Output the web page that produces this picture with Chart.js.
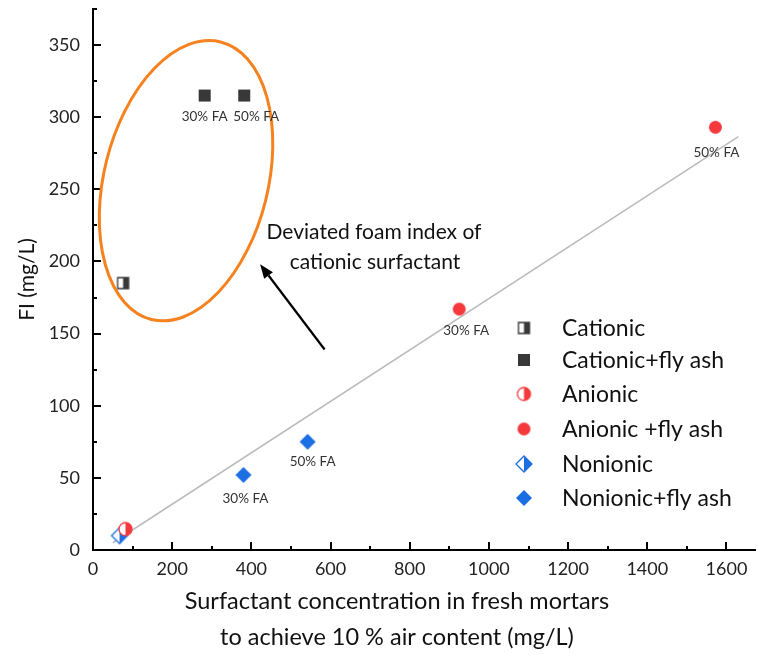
<!DOCTYPE html>
<html><head><meta charset="utf-8">
<script src="https://cdn.jsdelivr.net/npm/chart.js@4"></script>
<style>html,body{margin:0;padding:0;background:#fff}</style>
</head><body>
<canvas id="c" width="762" height="655"></canvas>
<script>
// ---- data ----
const xTicks = [0, 200, 400, 600, 800, 1000, 1200, 1400, 1600];
const yTicks = [0, 50, 100, 150, 200, 250, 300, 350];
const cationicX = [76], cationicY = [185];
const cationicFAX = [282, 382], cationicFAY = [315, 315];
const anionicX = [82], anionicY = [14.5];
const anionicFAX = [925, 1572], anionicFAY = [167, 293];
const nonionicX = [67], nonionicY = [10];
const nonionicFAX = [380, 542], nonionicFAY = [52, 75];
const faLabels = ['30% FA', '50% FA'];
const fitX = [50, 1630], fitY = [5, 286.5];
const legendNames = ['Cationic', 'Cationic+fly ash', 'Anionic', 'Anionic +fly ash', 'Nonionic', 'Nonionic+fly ash'];
const noteLines = ['Deviated foam index of', 'cationic surfactant'];
const xTitleLines = ['Surfactant concentration in fresh mortars', 'to achieve 10 % air content (mg/L)'];

const FONT = 'Lato, "Open Sans", sans-serif';
const DARK = '#383838', RED = '#f5383c', BLUE = '#1c6ee3', ORANGE = '#f5821f';

function makeMarker(shape, color, half, size) {
  const pad = 2;
  const c = document.createElement('canvas');
  c.width = c.height = Math.ceil(size + pad * 2);
  const g = c.getContext('2d');
  const m = c.width / 2, r = size / 2;
  const path = () => {
    g.beginPath();
    if (shape === 'square') g.rect(m - r, m - r, size, size);
    else if (shape === 'circle') g.arc(m, m, r, 0, Math.PI * 2);
    else { g.moveTo(m, m - r); g.lineTo(m + r, m); g.lineTo(m, m + r); g.lineTo(m - r, m); g.closePath(); }
  };
  if (half) {
    path(); g.fillStyle = '#fff'; g.fill();
    g.save(); path(); g.clip(); g.fillStyle = color; g.fillRect(m, 0, c.width, c.height); g.restore();
    path(); g.lineWidth = 1.3; g.strokeStyle = color; g.stroke();
  } else { path(); g.fillStyle = color; g.fill(); }
  return c;
}
const markers = [
  makeMarker('square', DARK, true, 11),
  makeMarker('square', DARK, false, 12),
  makeMarker('circle', RED, true, 13),
  makeMarker('circle', RED, false, 13),
  makeMarker('diamond', BLUE, true, 16),
  makeMarker('diamond', BLUE, false, 16)
];
const zip = (xs, ys) => xs.map((x, i) => ({x, y: ys[i]}));
const seriesX = [cationicX, cationicFAX, anionicX, anionicFAX, nonionicX, nonionicFAX];
const seriesY = [cationicY, cationicFAY, anionicY, anionicFAY, nonionicY, nonionicFAY];

const datasets = seriesX.map((xs, i) => ({
  label: legendNames[i], data: zip(xs, seriesY[i]),
  pointStyle: markers[i], pointRadius: 6, order: 1
}));
datasets.push({
  label: 'fit', data: zip(fitX, fitY), showLine: true, borderColor: '#bcbcbc',
  borderWidth: 1.6, pointRadius: 0, order: 10
});

// label offsets for FA annotations (pixels): [dataset index, point index, dx, dy]
const faLabelPos = [[1, 0, 0, 21], [1, 1, 12, 21], [3, 0, 7, 22], [3, 1, 1, 25], [5, 0, 2, 24], [5, 1, 5, 20]];

const extras = {
  id: 'extras',
  afterDraw(chart) {
    const ctx = chart.ctx, xs = chart.scales.x, ys = chart.scales.y, a = chart.chartArea;
    ctx.save();
    // inward ticks
    ctx.strokeStyle = '#000'; ctx.lineWidth = 2;
    for (let v = 0; v <= xs.max; v += 100) {
      const px = Math.round(xs.getPixelForValue(v));
      const len = (v % 200 === 0) ? 8 : 4;
      ctx.beginPath(); ctx.moveTo(px, a.bottom); ctx.lineTo(px, a.bottom - len); ctx.stroke();
    }
    for (let v = 0; v <= ys.max; v += 25) {
      const py = Math.round(ys.getPixelForValue(v));
      const len = (v % 50 === 0) ? 8 : 4;
      ctx.beginPath(); ctx.moveTo(a.left, py); ctx.lineTo(a.left + len, py); ctx.stroke();
    }
    // ellipse
    const ecx = xs.getPixelForValue(235), ecy = ys.getPixelForValue(256);
    ctx.beginPath(); ctx.ellipse(ecx, ecy, 82, 143, 14 * Math.PI / 180, 0, Math.PI * 2);
    ctx.strokeStyle = ORANGE; ctx.lineWidth = 3; ctx.stroke();
    // arrow
    const x0 = xs.getPixelForValue(585), y0 = ys.getPixelForValue(139);
    const x1 = xs.getPixelForValue(422), y1 = ys.getPixelForValue(198);
    const ang = Math.atan2(y1 - y0, x1 - x0), hl = 14, hw = 5.5;
    const bx = x1 - hl * Math.cos(ang), by = y1 - hl * Math.sin(ang);
    ctx.strokeStyle = '#000'; ctx.lineWidth = 2.2;
    ctx.beginPath(); ctx.moveTo(x0, y0); ctx.lineTo(bx, by); ctx.stroke();
    ctx.beginPath(); ctx.moveTo(x1, y1);
    ctx.lineTo(bx + hw * Math.sin(ang), by - hw * Math.cos(ang));
    ctx.lineTo(bx - hw * Math.sin(ang), by + hw * Math.cos(ang));
    ctx.closePath(); ctx.fillStyle = '#000'; ctx.fill();
    // note text
    ctx.fillStyle = '#111'; ctx.textAlign = 'center'; ctx.textBaseline = 'middle';
    ctx.font = '21px ' + FONT;
    ctx.fillText(noteLines[0], 374, 232);
    ctx.fillText(noteLines[1], 375, 262);
    // x axis title
    ctx.font = '23.5px ' + FONT;
    ctx.fillText(xTitleLines[0], 397, 601);
    ctx.fillText(xTitleLines[1], 397, 637);
    // FA labels
    ctx.font = '13.5px ' + FONT; ctx.fillStyle = '#333';
    faLabelPos.forEach(([di, pi, dx, dy]) => {
      const el = chart.getDatasetMeta(di).data[pi];
      ctx.fillText(faLabels[pi], el.x + dx, el.y + dy);
    });
    // legend
    ctx.textAlign = 'left'; ctx.font = '23px ' + FONT; ctx.fillStyle = '#111';
    const rows = [328, 360, 394, 429, 464, 498];
    legendNames.forEach((n, i) => {
      const m = markers[i];
      ctx.drawImage(m, 524 - m.width / 2, rows[i] - m.height / 2);
      ctx.fillText(n, 562, rows[i] + 1);
    });
    ctx.restore();
  }
};

new Chart(document.getElementById('c'), {
  type: 'scatter',
  data: {datasets},
  options: {
    responsive: false, animation: false, events: [],
    layout: {padding: {top: 9, right: 0, left: 0, bottom: 0}},
    plugins: {legend: {display: false}, tooltip: {enabled: false}},
    scales: {
      x: {
        type: 'linear', min: 0, max: 1672,
        afterBuildTicks: s => { s.ticks = xTicks.map(v => ({value: v})); },
        afterFit: s => { s.height = 105; s.paddingLeft = 0; s.paddingRight = 0; },
        grid: {display: true, drawOnChartArea: false, drawTicks: false},
        border: {display: true, color: '#000', width: 2},
        ticks: {padding: 8, color: '#222', font: {family: FONT, size: 18}, maxRotation: 0, callback: v => String(v)},
        title: {display: false}
      },
      y: {
        type: 'linear', min: 0, max: 375,
        afterBuildTicks: s => { s.ticks = yTicks.map(v => ({value: v})); },
        afterFit: s => { s.width = 93; s.paddingTop = 0; s.paddingBottom = 0; },
        grid: {display: true, drawOnChartArea: false, drawTicks: false},
        border: {display: true, color: '#000', width: 2},
        ticks: {padding: 13, color: '#222', font: {family: FONT, size: 18}, callback: v => String(v)},
        title: {display: true, text: 'FI (mg/L)', color: '#111', font: {family: FONT, size: 21}, padding: {top: 15, bottom: 0}}
      }
    }
  },
  plugins: [extras]
});
</script>
</body></html>
